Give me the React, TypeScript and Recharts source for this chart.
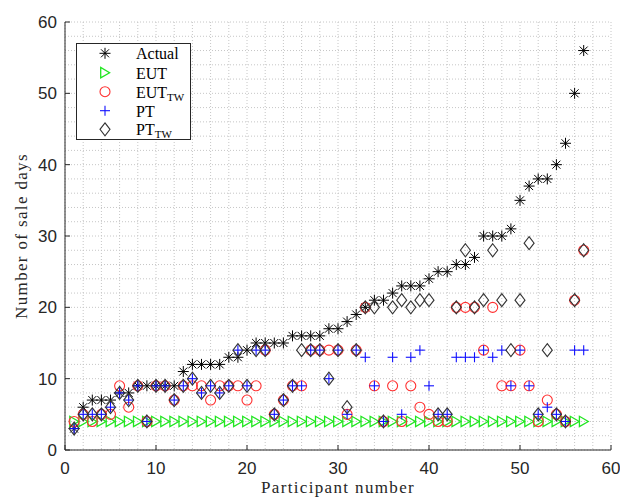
import React from "react";
import { ScatterChart, Scatter, XAxis, YAxis, CartesianGrid, Legend, Label } from "recharts";

// participant numbers (already sorted by actual sale days)
const participants = [
  1, 2, 3, 4, 5, 6, 7, 8, 9, 10, 11, 12, 13, 14, 15, 16, 17, 18, 19, 20,
  21, 22, 23, 24, 25, 26, 27, 28, 29, 30, 31, 32, 33, 34, 35, 36, 37, 38, 39, 40,
  41, 42, 43, 44, 45, 46, 47, 48, 49, 50, 51, 52, 53, 54, 55, 56, 57,
];

const actualDays = [
  3, 6, 7, 7, 7, 8, 8, 9, 9, 9, 9, 9, 11, 12, 12, 12, 12, 13, 13, 14,
  15, 15, 15, 15, 16, 16, 16, 16, 17, 17, 18, 19, 20, 21, 21, 22, 23, 23, 23, 24,
  25, 25, 26, 26, 27, 30, 30, 30, 31, 35, 37, 38, 38, 40, 43, 50, 56,
];

const eutDays = [
  4, 4, 4, 4, 4, 4, 4, 4, 4, 4, 4, 4, 4, 4, 4, 4, 4, 4, 4, 4,
  4, 4, 4, 4, 4, 4, 4, 4, 4, 4, 4, 4, 4, 4, 4, 4, 4, 4, 4, 4,
  4, 4, 4, 4, 4, 4, 4, 4, 4, 4, 4, 4, 4, 4, 4, 4, 4,
];

const eutTwDays = [
  4, 5, 4, 5, 5, 9, 6, 9, 4, 9, 9, 7, 9, 9, 9, 7, 9, 9, 9, 7,
  9, 14, 5, 7, 9, 9, 14, 14, 14, 14, 5, 14, 20, 9, 4, 9, 4, 9, 6, 5,
  4, 4, 20, 20, 20, 14, 20, 9, 9, 14, 9, 4, 7, 5, 4, 21, 28,
];

const ptDays = [
  3, 5, 5, 5, 6, 8, 7, 9, 4, 9, 9, 7, 9, 10, 8, 9, 8, 9, 14, 9,
  14, 14, 5, 7, 9, 9, 14, 14, 10, 14, 5, 14, 13, 9, 4, 13, 5, 13, 14, 9,
  5, 5, 13, 13, 13, 14, 13, 14, 9, 14, 9, 5, 6, 5, 4, 14, 14,
];

const ptTwDays = [
  3, 5, 5, 5, 6, 8, 7, 9, 4, 9, 9, 7, 9, 10, 8, 9, 8, 9, 14, 9,
  14, 14, 5, 7, 9, 14, 14, 14, 10, 14, 6, 14, 20, 20, 4, 20, 21, 20, 21, 21,
  5, 5, 20, 28, 20, 21, 28, 21, 14, 21, 29, 5, 14, 5, 4, 21, 28,
];

const axisTicks = [0, 10, 20, 30, 40, 50, 60];

const AXIS = "#262626";
const GREEN = "#22e622";
const RED = "#ff3030";
const BLUE = "#1010ff";
const DARK = "#333333";

const toPoints = (ys: number[]) => participants.map((p, i) => ({ x: p, y: ys[i] }));

// marker shapes (MATLAB-like)
const asterisk = (cx: number, cy: number) => (
  <g stroke="#000" strokeWidth={1}>
    <line x1={cx - 5.5} y1={cy} x2={cx + 5.5} y2={cy} />
    <line x1={cx} y1={cy - 5.5} x2={cx} y2={cy + 5.5} />
    <line x1={cx - 4} y1={cy - 4} x2={cx + 4} y2={cy + 4} />
    <line x1={cx - 4} y1={cy + 4} x2={cx + 4} y2={cy - 4} />
  </g>
);

const triangleRight = (cx: number, cy: number) => (
  <polygon
    points={`${cx - 4.3},${cy - 5.2} ${cx - 4.3},${cy + 5.2} ${cx + 4.6},${cy}`}
    fill="none"
    stroke={GREEN}
    strokeWidth={1.3}
  />
);

const circle = (cx: number, cy: number) => (
  <circle cx={cx} cy={cy} r={5} fill="none" stroke={RED} strokeWidth={1.1} />
);

const plus = (cx: number, cy: number) => (
  <g stroke={BLUE} strokeWidth={1.1}>
    <line x1={cx - 5} y1={cy} x2={cx + 5} y2={cy} />
    <line x1={cx} y1={cy - 5} x2={cx} y2={cy + 5} />
  </g>
);

const diamond = (cx: number, cy: number) => (
  <polygon
    points={`${cx},${cy - 6.5} ${cx + 5},${cy} ${cx},${cy + 6.5} ${cx - 5},${cy}`}
    fill="none"
    stroke={DARK}
    strokeWidth={1.1}
  />
);

const LegendBox = () => {
  const mx = 29;
  const tx = 60;
  const rows = [10.3, 29.7, 48.7, 67.7, 86.3];
  const textStyle = { fontFamily: "'Liberation Serif', serif", fontSize: 16, fill: "#000" };
  return (
    <svg width={115} height={97} style={{ display: "block" }}>
      <rect x={0.5} y={0.5} width={114} height={96} fill="#fff" stroke={AXIS} strokeWidth={1} />
      {asterisk(mx, rows[0])}
      {triangleRight(mx, rows[1])}
      {circle(mx, rows[2])}
      {plus(mx, rows[3])}
      {diamond(mx, rows[4])}
      <text x={tx} y={rows[0] + 6} {...textStyle}>Actual</text>
      <text x={tx} y={rows[1] + 6} {...textStyle}>EUT</text>
      <text x={tx} y={rows[2] + 6} {...textStyle}>
        EUT<tspan fontSize={11} dy={3}>TW</tspan>
      </text>
      <text x={tx} y={rows[3] + 6} {...textStyle}>PT</text>
      <text x={tx} y={rows[4] + 6} {...textStyle}>
        PT<tspan fontSize={11} dy={3}>TW</tspan>
      </text>
    </svg>
  );
};

const tickStyle = { fill: AXIS, fontSize: 17, fontFamily: "'Liberation Sans', Arial, sans-serif" };
const titleStyle = { fontFamily: "'Liberation Serif', serif", fontSize: 17, letterSpacing: 1.35, fill: AXIS };

const App = () => {
  return (
    <div style={{ position: "absolute", left: 0, top: 0, width: 620, height: 497, background: "#fff" }}>
      <ScatterChart width={620} height={497} margin={{ top: 22, right: 9, left: 0, bottom: 0 }}>
        {/* dotted grid every 2 units on both axes */}
        <CartesianGrid
          stroke="#c6c6c6"
          strokeDasharray="1 2"
          verticalCoordinatesGenerator={({ offset }: any) =>
            Array.from({ length: 31 }, (_, i) => offset.left + (i / 30) * offset.width)
          }
          horizontalCoordinatesGenerator={({ offset }: any) =>
            Array.from({ length: 31 }, (_, i) => offset.top + (i / 30) * offset.height)
          }
        />
        <XAxis
          type="number"
          dataKey="x"
          domain={[0, 60]}
          ticks={axisTicks}
          interval={0}
          height={47}
          stroke={AXIS}
          tickSize={-5}
          tickMargin={17}
          tick={tickStyle}
        >
          <Label
            content={({ viewBox }: any) => (
              <text x={viewBox.x + viewBox.width / 2} y={493} textAnchor="middle" {...titleStyle}>
                Participant number
              </text>
            )}
          />
        </XAxis>
        <YAxis
          type="number"
          dataKey="y"
          domain={[0, 60]}
          ticks={axisTicks}
          interval={0}
          width={65}
          stroke={AXIS}
          tickSize={-5}
          tickMargin={13}
          tick={tickStyle}
        >
          <Label
            content={({ viewBox }: any) => {
              const cy = viewBox.y + viewBox.height / 2;
              return (
                <text x={27} y={cy} textAnchor="middle" transform={`rotate(-90, 27, ${cy})`} {...titleStyle}>
                  Number of sale days
                </text>
              );
            }}
          />
        </YAxis>
        <Scatter name="Actual" data={toPoints(actualDays)} isAnimationActive={false} shape={(p: any) => asterisk(p.cx, p.cy)} />
        <Scatter name="EUT" data={toPoints(eutDays)} isAnimationActive={false} shape={(p: any) => triangleRight(p.cx, p.cy)} />
        <Scatter name="EUT_TW" data={toPoints(eutTwDays)} isAnimationActive={false} shape={(p: any) => circle(p.cx, p.cy)} />
        <Scatter name="PT" data={toPoints(ptDays)} isAnimationActive={false} shape={(p: any) => plus(p.cx, p.cy)} />
        <Scatter name="PT_TW" data={toPoints(ptTwDays)} isAnimationActive={false} shape={(p: any) => diamond(p.cx, p.cy)} />
        <Legend
          layout="horizontal"
          verticalAlign="middle"
          align="center"
          content={() => <LegendBox />}
          wrapperStyle={{ left: 76, top: 43, width: 115, height: 97 }}
        />
      </ScatterChart>
    </div>
  );
};

export default App;
